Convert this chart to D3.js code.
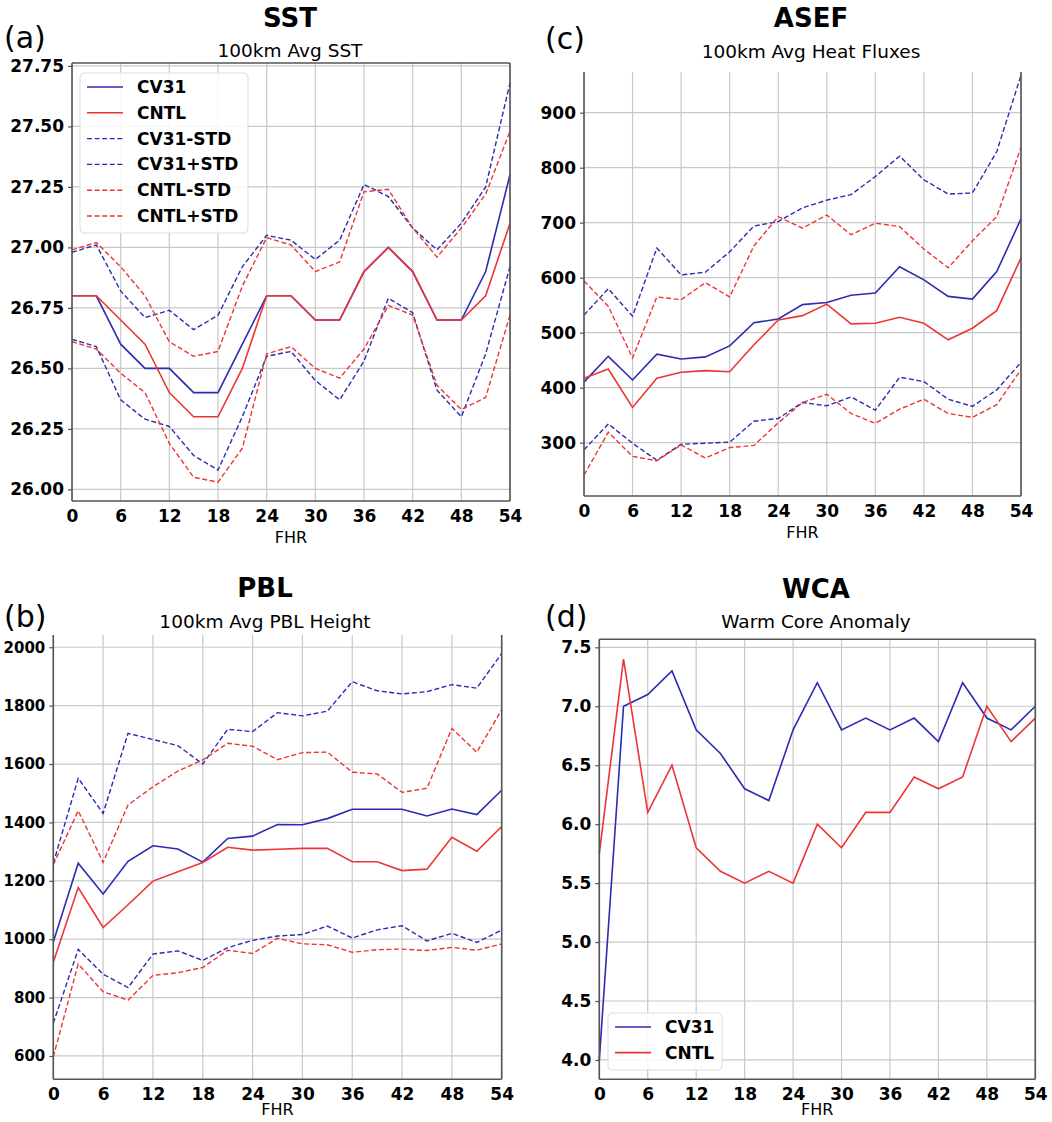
<!DOCTYPE html>
<html>
<head>
<meta charset="utf-8">
<script src="https://cdn.jsdelivr.net/npm/d3@7"></script>
<style>
  body { margin: 0; background: #fff; }
  svg { display: block; }
</style>
</head>
<body>
<div id="chart"></div>
<script>
var svgWidth = 1052;
var svgHeight = 1122;

// forecast hours (every 3h)
var fhr = [0, 3, 6, 9, 12, 15, 18, 21, 24, 27, 30, 33, 36, 39, 42, 45, 48, 51, 54];
var xTicks = [0, 6, 12, 18, 24, 30, 36, 42, 48, 54];

// (a) SST
var sstCV31     = [26.8, 26.8, 26.6, 26.5, 26.5, 26.4, 26.4, 26.6, 26.8, 26.8, 26.7, 26.7, 26.9, 27.0, 26.9, 26.7, 26.7, 26.9, 27.3];
var sstCNTL     = [26.8, 26.8, 26.7, 26.6, 26.4, 26.3, 26.3, 26.5, 26.8, 26.8, 26.7, 26.7, 26.9, 27.0, 26.9, 26.7, 26.7, 26.8, 27.1];
var sstCV31Lo   = [26.62, 26.59, 26.37, 26.29, 26.26, 26.14, 26.08, 26.30, 26.55, 26.57, 26.45, 26.37, 26.53, 26.79, 26.73, 26.41, 26.30, 26.56, 26.92];
var sstCV31Hi   = [26.98, 27.01, 26.82, 26.71, 26.74, 26.66, 26.72, 26.92, 27.05, 27.03, 26.95, 27.03, 27.26, 27.21, 27.08, 26.99, 27.10, 27.25, 27.68];
var sstCNTLLo   = [26.61, 26.58, 26.48, 26.40, 26.19, 26.05, 26.03, 26.17, 26.56, 26.59, 26.50, 26.46, 26.58, 26.76, 26.72, 26.43, 26.33, 26.38, 26.72];
var sstCNTLHi   = [26.99, 27.02, 26.92, 26.80, 26.61, 26.55, 26.57, 26.84, 27.04, 27.01, 26.90, 26.94, 27.23, 27.24, 27.08, 26.96, 27.08, 27.22, 27.48];
var sstTicks    = [26.00, 26.25, 26.50, 26.75, 27.00, 27.25, 27.50, 27.75];

// (c) ASEF heat fluxes
var asefCV31    = [410, 457, 414, 461, 452, 456, 476, 518, 525, 551, 555, 568, 572, 620, 596, 566, 561, 611, 707];
var asefCNTL    = [417, 434, 364, 417, 428, 431, 429, 478, 523, 531, 552, 516, 517, 528, 517, 487, 508, 540, 636];
var asefCV31Lo  = [287, 334, 299, 268, 297, 299, 301, 339, 344, 373, 367, 383, 359, 419, 411, 379, 366, 396, 446];
var asefCV31Hi  = [532, 580, 530, 654, 605, 610, 647, 694, 702, 727, 741, 751, 784, 821, 778, 752, 754, 829, 968];
var asefCNTLLo  = [241, 319, 275, 267, 296, 272, 291, 295, 336, 373, 388, 353, 335, 361, 379, 353, 346, 369, 433];
var asefCNTLHi  = [594, 548, 454, 565, 560, 591, 565, 658, 711, 690, 714, 678, 699, 693, 652, 618, 667, 711, 837];
var asefTicks   = [300, 400, 500, 600, 700, 800, 900];

// (b) PBL height
var pblCV31     = [990, 1260, 1155, 1267, 1320, 1309, 1264, 1345, 1353, 1393, 1392, 1413, 1445, 1445, 1445, 1422, 1446, 1427, 1510];
var pblCNTL     = [921, 1177, 1040, 1118, 1199, 1231, 1263, 1315, 1305, 1308, 1311, 1311, 1265, 1265, 1235, 1240, 1349, 1301, 1386];
var pblCV31Lo   = [712, 965, 880, 834, 949, 960, 927, 971, 996, 1011, 1016, 1045, 1004, 1032, 1046, 994, 1020, 989, 1031];
var pblCV31Hi   = [1260, 1551, 1431, 1705, 1684, 1663, 1600, 1719, 1711, 1776, 1765, 1781, 1882, 1851, 1840, 1848, 1872, 1860, 1979];
var pblCNTLLo   = [597, 915, 820, 791, 876, 885, 903, 962, 951, 1003, 984, 981, 955, 964, 966, 961, 972, 962, 984];
var pblCNTLHi   = [1255, 1440, 1263, 1460, 1522, 1576, 1614, 1671, 1661, 1615, 1639, 1641, 1572, 1566, 1503, 1517, 1722, 1640, 1786];
var pblTicks    = [600, 800, 1000, 1200, 1400, 1600, 1800, 2000];

// (d) warm core anomaly
var wcaCV31     = [4.0, 7.0, 7.1, 7.3, 6.8, 6.6, 6.3, 6.2, 6.8, 7.2, 6.8, 6.9, 6.8, 6.9, 6.7, 7.2, 6.9, 6.8, 7.0];
var wcaCNTL     = [5.75, 7.4, 6.1, 6.5, 5.8, 5.6, 5.5, 5.6, 5.5, 6.0, 5.8, 6.1, 6.1, 6.4, 6.3, 6.4, 7.0, 6.7, 6.9];
var wcaTicks    = [4.0, 4.5, 5.0, 5.5, 6.0, 6.5, 7.0, 7.5];

var blue = "#2b2bb3";
var red = "#ee3535";
var tickFont = "'DejaVu Sans', sans-serif";

var svg = d3.select("#chart")
  .append("svg")
  .attr("width", svgWidth)
  .attr("height", svgHeight);

// draw one sub-plot
function drawPanel(p) {
  var xScale = d3.scaleLinear().domain([0, 54]).range([p.left, p.right]);
  var yScale = d3.scaleLinear().domain(p.yDomain).range([p.bottom, p.top]);
  var g = svg.append("g");

  // grid
  g.selectAll(".vgrid")
    .data(xTicks)
    .enter()
    .append("line")
    .attr("x1", d => xScale(d))
    .attr("x2", d => xScale(d))
    .attr("y1", p.top)
    .attr("y2", p.bottom)
    .attr("stroke", "#c8c8c8")
    .attr("stroke-width", 1.2);
  g.selectAll(".hgrid")
    .data(p.yTicks)
    .enter()
    .append("line")
    .attr("x1", p.left)
    .attr("x2", p.right)
    .attr("y1", d => yScale(d))
    .attr("y2", d => yScale(d))
    .attr("stroke", "#c8c8c8")
    .attr("stroke-width", 1.2);

  // series
  var line = d3.line()
    .x((d, i) => xScale(fhr[i]))
    .y(d => yScale(d));
  p.series.forEach(function(s) {
    g.append("path")
      .datum(s.values)
      .attr("d", line)
      .attr("fill", "none")
      .attr("stroke", s.color)
      .attr("stroke-width", s.dash ? 1.4 : 1.6)
      .attr("stroke-dasharray", s.dash ? "5,2.6" : null);
  });

  // spines
  var spine = "#555";
  g.append("line").attr("x1", p.left).attr("x2", p.left).attr("y1", p.top).attr("y2", p.bottom)
    .attr("stroke", spine).attr("stroke-width", 1.6);
  g.append("line").attr("x1", p.left).attr("x2", p.right).attr("y1", p.bottom).attr("y2", p.bottom)
    .attr("stroke", spine).attr("stroke-width", 1.6);
  g.append("line").attr("x1", p.right).attr("x2", p.right).attr("y1", p.top).attr("y2", p.bottom)
    .attr("stroke", spine).attr("stroke-width", 1.6);
  if (p.topSpine) {
    g.append("line").attr("x1", p.left).attr("x2", p.right).attr("y1", p.top).attr("y2", p.top)
      .attr("stroke", spine).attr("stroke-width", 1.6);
  }

  // axes
  var leftAxis = d3.axisLeft(yScale)
    .tickValues(p.yTicks)
    .tickSize(4)
    .tickPadding(4)
    .tickFormat(p.fmt);
  var yAxis = g.append("g")
    .attr("transform", `translate(${p.left}, 0)`)
    .call(leftAxis);
  yAxis.select(".domain").remove();

  var bottomAxis = d3.axisBottom(xScale)
    .tickValues(xTicks)
    .tickSize(0)
    .tickPadding(9)
    .tickFormat(d3.format("d"));
  var xAxis = g.append("g")
    .attr("transform", `translate(0, ${p.bottom})`)
    .call(bottomAxis);
  xAxis.select(".domain").remove();

  g.selectAll(".tick line").attr("stroke", spine).attr("stroke-width", 1.2);
  g.selectAll(".tick text")
    .attr("fill", "#000")
    .style("font-family", tickFont)
    .style("font-weight", "bold")
    .style("font-size", "17px");
  // narrow left margin in (b): shrink y labels so the 4-digit ones fit
  if (p.yFont) {
    yAxis.selectAll(".tick text").style("font-size", p.yFont);
  }

  // x label
  g.append("text")
    .attr("x", (p.left + p.right) / 2)
    .attr("y", p.bottom + (p.xlabGap || 42))
    .attr("text-anchor", "middle")
    .style("font-family", tickFont)
    .style("font-size", "16px")
    .text("FHR");

  // titles
  g.append("text")
    .attr("x", p.titleX)
    .attr("y", p.titleY)
    .attr("text-anchor", "middle")
    .style("font-family", tickFont)
    .style("font-weight", "bold")
    .style("font-size", "26px")
    .text(p.title);
  g.append("text")
    .attr("x", p.titleX)
    .attr("y", p.subY)
    .attr("text-anchor", "middle")
    .style("font-family", tickFont)
    .style("font-size", "18.5px")
    .text(p.subtitle);
  g.append("text")
    .attr("x", p.tagX)
    .attr("y", p.tagY)
    .style("font-family", tickFont)
    .style("font-size", "30px")
    .text(p.tag);

  return g;
}

// legend box
function drawLegend(x, y, w, h, rowH, entries) {
  var lg = svg.append("g").attr("transform", `translate(${x}, ${y})`);
  lg.append("rect")
    .attr("width", w)
    .attr("height", h)
    .attr("rx", 4)
    .attr("fill", "#fff")
    .attr("fill-opacity", 0.85)
    .attr("stroke", "#dddddd");
  entries.forEach(function(e, i) {
    var cy = 14 + i * rowH;
    lg.append("line")
      .attr("x1", 7)
      .attr("x2", 43)
      .attr("y1", cy)
      .attr("y2", cy)
      .attr("stroke", e.color)
      .attr("stroke-width", e.dash ? 1.4 : 1.6)
      .attr("stroke-dasharray", e.dash ? "5,2.6" : null);
    lg.append("text")
      .attr("x", 57)
      .attr("y", cy + 6)
      .style("font-family", tickFont)
      .style("font-weight", "bold")
      .style("font-size", "17px")
      .text(e.name);
  });
}

var sstSeries = [
  {name: "CV31", values: sstCV31, color: blue},
  {name: "CNTL", values: sstCNTL, color: red},
  {name: "CV31-STD", values: sstCV31Lo, color: blue, dash: true},
  {name: "CV31+STD", values: sstCV31Hi, color: blue, dash: true},
  {name: "CNTL-STD", values: sstCNTLLo, color: red, dash: true},
  {name: "CNTL+STD", values: sstCNTLHi, color: red, dash: true}
];

drawPanel({
  left: 72, right: 510, top: 63, bottom: 501,
  yDomain: [25.952, 27.762], yTicks: sstTicks, fmt: d3.format(".2f"),
  series: sstSeries, topSpine: true,
  title: "SST", subtitle: "100km Avg SST", titleX: 290, titleY: 27, subY: 57,
  tag: "(a)", tagX: 4, tagY: 48
});
drawLegend(80, 73, 168, 160, 25.8, sstSeries);

drawPanel({
  left: 584, right: 1021, top: 72, bottom: 496,
  yDomain: [203, 974], yTicks: asefTicks, fmt: d3.format("d"),
  series: [
    {values: asefCV31, color: blue},
    {values: asefCNTL, color: red},
    {values: asefCV31Lo, color: blue, dash: true},
    {values: asefCV31Hi, color: blue, dash: true},
    {values: asefCNTLLo, color: red, dash: true},
    {values: asefCNTLHi, color: red, dash: true}
  ],
  title: "ASEF", subtitle: "100km Avg Heat Fluxes", titleX: 811, titleY: 27, subY: 58,
  tag: "(c)", tagX: 545, tagY: 49
});

drawPanel({
  left: 53.3, right: 501.7, top: 635, bottom: 1079.3,
  yDomain: [520, 2042], yTicks: pblTicks, fmt: d3.format("d"), yFont: "15px",
  xlabGap: 36,
  series: [
    {values: pblCV31, color: blue},
    {values: pblCNTL, color: red},
    {values: pblCV31Lo, color: blue, dash: true},
    {values: pblCV31Hi, color: blue, dash: true},
    {values: pblCNTLLo, color: red, dash: true},
    {values: pblCNTLHi, color: red, dash: true}
  ],
  title: "PBL", subtitle: "100km Avg PBL Height", titleX: 265, titleY: 597, subY: 628,
  tag: "(b)", tagX: 4, tagY: 627
});

drawPanel({
  left: 599.3, right: 1035.3, top: 639.3, bottom: 1079.3,
  yDomain: [3.836, 7.568], yTicks: wcaTicks, fmt: d3.format(".1f"),
  xlabGap: 36,
  series: [
    {values: wcaCV31, color: blue},
    {values: wcaCNTL, color: red}
  ],
  topSpine: true,
  title: "WCA", subtitle: "Warm Core Anomaly", titleX: 816, titleY: 598, subY: 628,
  tag: "(d)", tagX: 545, tagY: 627
});
drawLegend(608, 1013, 114, 57, 25.6, [
  {name: "CV31", color: blue},
  {name: "CNTL", color: red}
]);
</script>
</body>
</html>
